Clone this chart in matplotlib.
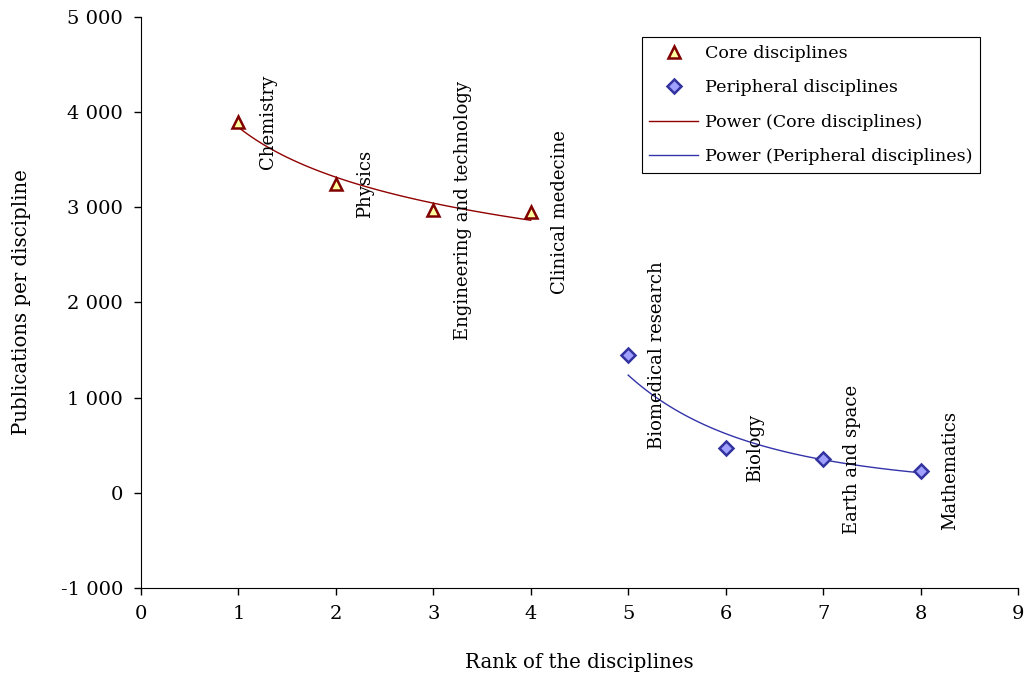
import numpy as np
import matplotlib
matplotlib.use("Agg")
import matplotlib.pyplot as plt
from matplotlib.ticker import FuncFormatter

# ---- données ----
core_rank = [1, 2, 3, 4]
core_pubs = [3900, 3250, 2970, 2950]
core_names = ["Chemistry", "Physics", "Engineering and technology", "Clinical medecine"]

peri_rank = [5, 6, 7, 8]
peri_pubs = [1450, 475, 355, 230]
peri_names = ["Biomedical research", "Biology", "Earth and space", "Mathematics"]

plt.rcParams["font.family"] = ["DejaVu Serif"]
plt.rcParams["font.size"] = 12.5

fig = plt.figure(figsize=(10.27, 6.77), dpi=100)
ax = fig.add_axes([0.1373, 0.1315, 0.8539, 0.8434])


def power_fit(x, y):
    # tendance "Power" façon Excel : y = a * x^b
    b, lna = np.polyfit(np.log(x), np.log(y), 1)
    xs = np.linspace(min(x), max(x), 100)
    return xs, np.exp(lna) * xs ** b


ax.plot(core_rank, core_pubs, ls="none", marker="^", ms=9, mfc="#ffffa0",
        mec="#800000", mew=1.8, label="Core disciplines", zorder=3)
ax.plot(peri_rank, peri_pubs, ls="none", marker="D", ms=7, mfc="#a0a0ff",
        mec="#3333a0", mew=1.8, label="Peripheral disciplines", zorder=3)

xs, ys = power_fit(core_rank, core_pubs)
ax.plot(xs, ys, color="#900000", lw=1, label="Power (Core disciplines)")
xs, ys = power_fit(peri_rank, peri_pubs)
ax.plot(xs, ys, color="#3333aa", lw=1, label="Power (Peripheral disciplines)")

for x, y, name in zip(core_rank + peri_rank, core_pubs + peri_pubs, core_names + peri_names):
    ax.text(x + 0.3, y, name, rotation=90, ha="center", va="center", fontsize=13)

ax.set_xlim(0, 9)
ax.set_ylim(-1000, 5000)
ax.set_xticks(range(0, 10))
ax.set_yticks(range(-1000, 5001, 1000))
ax.yaxis.set_major_formatter(FuncFormatter(lambda v, p: f"{int(v):,}".replace(",", " ")))
ax.tick_params(direction="out", length=5, width=1, labelsize=14)
ax.tick_params(axis="y", pad=8)
ax.tick_params(axis="x", pad=7)
for s in ("top", "right"):
    ax.spines[s].set_visible(False)

ax.set_xlabel("Rank of the disciplines", fontsize=14.2, labelpad=22)
ax.set_ylabel("Publications per discipline", fontsize=14.2, labelpad=21)

leg = ax.legend(loc="upper right", bbox_to_anchor=(0.9567, 0.965), fancybox=False,
                edgecolor="black", fontsize=12.6, handlelength=2.8, handletextpad=0.35,
                borderpad=0.45, labelspacing=1.0, borderaxespad=0, framealpha=1)
leg.get_frame().set_linewidth(0.8)

fig.savefig("out.png", dpi=100)
